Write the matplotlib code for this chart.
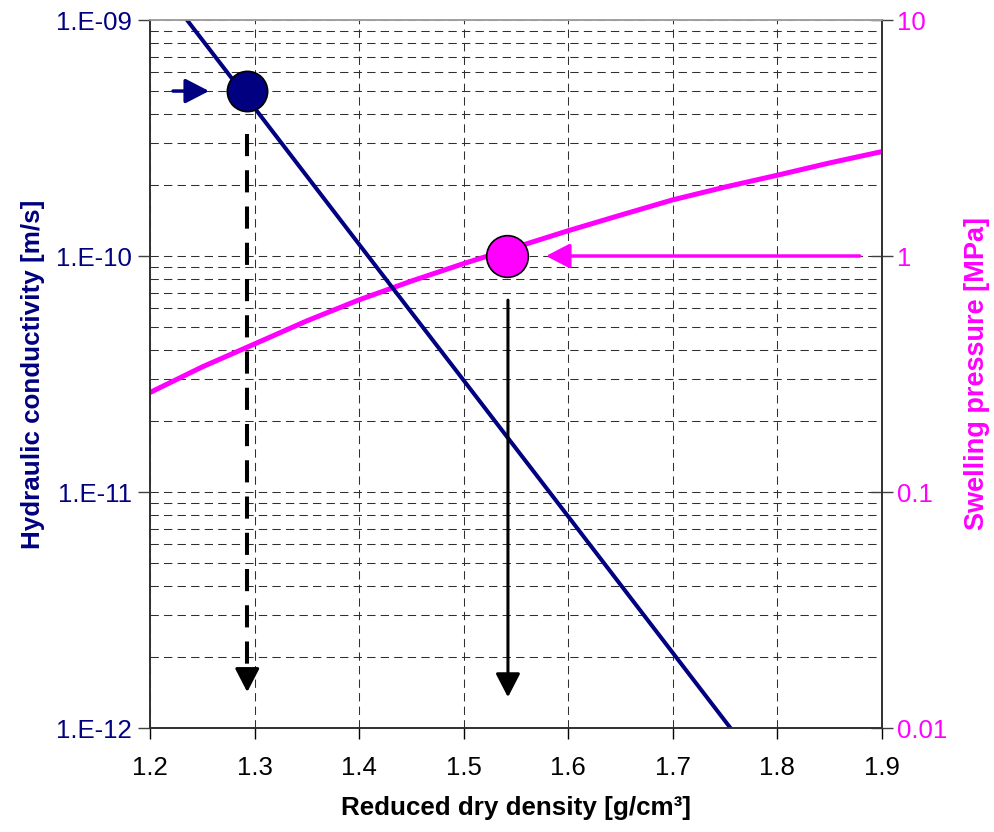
import matplotlib
matplotlib.use("Agg")
import matplotlib.pyplot as plt
from matplotlib.ticker import LogLocator, NullFormatter, FixedLocator

plt.rcParams["font.family"] = ["Liberation Sans", "DejaVu Sans"]

NAVY = "#000080"
MAGENTA = "#FF00FF"

# hydraulic conductivity vs reduced dry density
density_k = [1.2, 1.3, 1.4, 1.5, 1.6, 1.7, 1.8]
conductivity = [1.6e-9, 4.24e-10, 1.12e-10, 2.97e-11, 7.87e-12, 2.08e-12, 5.5e-13]

# swelling pressure vs reduced dry density
density_p = [1.2, 1.25, 1.3, 1.35, 1.4, 1.45, 1.5, 1.55,
             1.6, 1.65, 1.7, 1.75, 1.8, 1.85, 1.9]
pressure = [0.264, 0.339, 0.424, 0.531, 0.652, 0.783, 0.929, 1.09,
            1.28, 1.49, 1.73, 1.96, 2.20, 2.48, 2.77]

# highlighted points
k_point = (1.293, 5.0e-10)
p_point = (1.541, 1.0)

x_ticks = [1.2, 1.3, 1.4, 1.5, 1.6, 1.7, 1.8, 1.9]
k_ticks = [1e-12, 1e-11, 1e-10, 1e-9]
k_labels = ["1.E-12", "1.E-11", "1.E-10", "1.E-09"]
p_ticks = [0.01, 0.1, 1, 10]
p_labels = ["0.01", "0.1", "1", "10"]

fig = plt.figure(figsize=(9.95, 8.32), dpi=100)
ax = fig.add_axes([150 / 995, 1 - 728 / 832, 732 / 995, 708 / 832])
ax2 = ax.twinx()
ax.set_zorder(ax2.get_zorder() + 1)
ax.patch.set_visible(False)

ax.set_yscale("log")
ax2.set_yscale("log")
ax.set_xlim(1.2, 1.9)
ax.set_ylim(1e-12, 1e-9)
ax2.set_ylim(0.01, 10)

# grid drawn on the lower axes so the curves sit on top of it
ax2.xaxis.set_visible(True)
ax2.yaxis.set_minor_locator(LogLocator(base=10, subs=range(2, 10)))
ax2.yaxis.set_minor_formatter(NullFormatter())
ax.yaxis.set_minor_locator(LogLocator(base=10, subs=range(2, 10)))
ax.yaxis.set_minor_formatter(NullFormatter())
gkw = dict(color="#303030", linestyle=(0, (8, 5)), linewidth=0.75)
ax2.grid(True, which="both", axis="y", **gkw)
ax2.grid(True, which="major", axis="x", **gkw)

# curves
ax2.plot(density_p, pressure, color=MAGENTA, lw=3.6, solid_capstyle="butt", zorder=2)
ax.plot(density_k, conductivity, color=NAVY, lw=2.9, solid_capstyle="butt", zorder=2)

# markers
ax.plot(*k_point, "o", ms=29, mfc=NAVY, mec="black", mew=1.2, zorder=5)
ax2.plot(*p_point, "o", ms=30, mfc=MAGENTA, mec="black", mew=1.2, zorder=5)

# arrows
head = "-|>,head_length=1.45,head_width=0.75"
ax.annotate("", xy=(1.2565, 5.0e-10), xytext=(1.222, 5.0e-10),
            arrowprops=dict(arrowstyle=head, color=NAVY, lw=2.5,
                            mutation_scale=10, shrinkA=0, shrinkB=0))
ax2.annotate("", xy=(1.5786, 1.0), xytext=(1.8788, 1.0),
             arrowprops=dict(arrowstyle=head, color=MAGENTA, lw=2.5,
                             mutation_scale=10, shrinkA=0, shrinkB=0))
# dashed arrow: shaft + separate head
ax.plot([1.293, 1.293], [3.29e-10, 1.75e-12], color="black", lw=2.9,
        linestyle=(0, (5.5, 3.5)), zorder=4)
ax.annotate("", xy=(1.293, 1.42e-12), xytext=(1.293, 1.72e-12),
            arrowprops=dict(arrowstyle=head, color="black", lw=2.2,
                            mutation_scale=10, shrinkA=0, shrinkB=0))
ax.annotate("", xy=(1.5423, 1.35e-12), xytext=(1.5423, 6.5e-11),
            arrowprops=dict(arrowstyle=head, color="black", lw=2.2,
                            mutation_scale=10, shrinkA=0, shrinkB=0))

# ticks and labels
ax.xaxis.set_major_locator(FixedLocator(x_ticks))
ax.set_xticklabels([f"{v:.1f}" for v in x_ticks])
ax.set_yticks(k_ticks)
ax.set_yticklabels(k_labels)
ax2.set_yticks(p_ticks)
ax2.set_yticklabels(p_labels)

ax.tick_params(axis="x", direction="out", length=8, width=1, labelsize=18.5,
               colors="black", pad=12)
ax.tick_params(axis="y", which="major", direction="out", length=9, width=1,
               labelsize=18.5, labelcolor=NAVY, color="#404040", pad=4)
ax.tick_params(axis="y", which="minor", length=0)
ax2.tick_params(axis="y", which="major", direction="inout", length=16, width=1,
                labelsize=18.5, labelcolor=MAGENTA, color="#404040", pad=3)
ax2.tick_params(axis="y", which="minor", length=0)
ax2.tick_params(axis="x", which="both", bottom=False, top=False,
                labelbottom=False, labeltop=False)

for a in (ax, ax2):
    for side in ("left", "right", "bottom"):
        a.spines[side].set_color("#303030")
        a.spines[side].set_linewidth(1.2)
    a.spines["top"].set_color("#a0a0a0")
    a.spines["top"].set_linewidth(1.2)

ax.set_xlabel("Reduced dry density [g/cm³]", fontsize=18.7, fontweight="bold",
              labelpad=12)
ax.set_ylabel("Hydraulic conductivity [m/s]", fontsize=18.7, fontweight="bold",
              color=NAVY, labelpad=8)
ax2.set_ylabel("Swelling pressure [MPa]", fontsize=19.5, fontweight="bold",
               color=MAGENTA, labelpad=12)

fig.savefig("out.png", dpi=100)
plt.close(fig)
